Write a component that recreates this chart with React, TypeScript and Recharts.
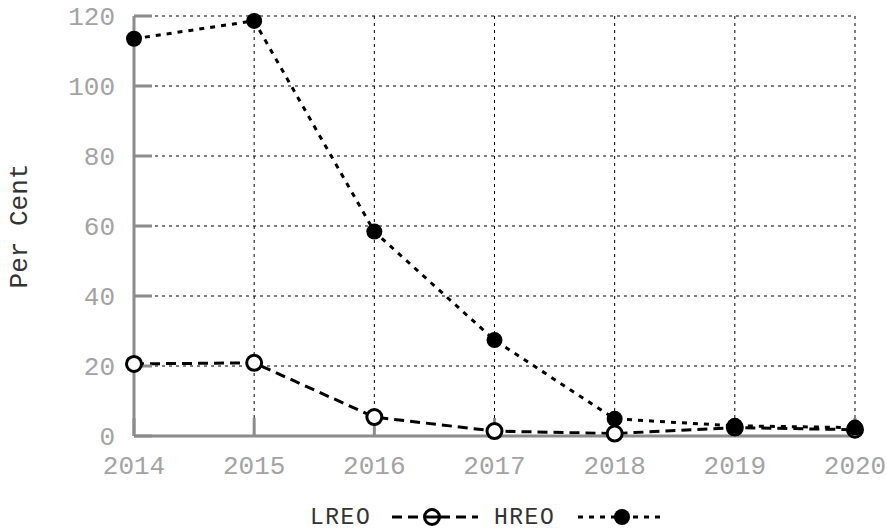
import React from 'react'
import { LineChart, Line, XAxis, YAxis, CartesianGrid } from 'recharts'

const years = ['2014', '2015', '2016', '2017', '2018', '2019', '2020']
const lreo = [20.6, 20.9, 5.4, 1.4, 0.7, 2.4, 1.8]
const hreo = [113.5, 118.6, 58.4, 27.4, 4.9, 2.9, 2.4]
const yTicks = [0, 20, 40, 60, 80, 100, 120]

const data = years.map((year, i) => ({ year, lreo: lreo[i], hreo: hreo[i] }))

const font = '"Liberation Mono", "Courier New", monospace'
const axisGray = '#8c8c8c'
const tickStyle = { fill: '#a3a3a3', fontFamily: font, fontSize: 26 }

// legend drawn below the chart, in its own svg
function Legend() {
  return (
    <svg width={887} height={26} style={{ position: 'absolute', left: 0, top: 503, overflow: 'visible' }}>
      <g fontFamily={font} fontSize={23} fill="#333" letterSpacing={1.5}>
        <text x={310} y={21}>LREO</text>
        <text x={494} y={21}>HREO</text>
      </g>
      <line x1={392} y1={14} x2={478} y2={14} stroke="#000" strokeWidth={3} strokeDasharray="10 6" />
      <circle cx={432} cy={14} r={7.5} fill="#fff" stroke="#000" strokeWidth={3} />
      <line x1={425} y1={14} x2={440} y2={14} stroke="#000" strokeWidth={3} />
      <line x1={578} y1={14} x2={666} y2={14} stroke="#000" strokeWidth={3} strokeDasharray="5 6" />
      <circle cx={622} cy={14} r={8} fill="#000" />
    </svg>
  )
}

export default function App() {
  return (
    <div style={{ position: 'absolute', left: 0, top: 0, width: 887, height: 530, background: '#fff' }}>
      <LineChart
        width={887}
        height={530}
        data={data}
        margin={{ top: 16, right: 32, left: 0, bottom: 50 }}
      >
        <CartesianGrid stroke="#000" strokeDasharray="3 4" strokeWidth={1} />
        <XAxis
          dataKey="year"
          stroke={axisGray}
          strokeWidth={3}
          tickSize={-18}
          tickMargin={38}
          height={44}
          tick={tickStyle}
          interval={0}
        />
        <YAxis
          domain={[0, 120]}
          ticks={yTicks}
          stroke={axisGray}
          strokeWidth={3}
          tickSize={-18}
          tickMargin={37}
          width={134}
          tick={tickStyle}
          label={{
            value: 'Per Cent',
            angle: -90,
            position: 'insideLeft',
            offset: 18,
            style: { fill: '#333', fontFamily: font, fontSize: 26, textAnchor: 'middle' }
          }}
        />
        <Line
          dataKey="lreo"
          stroke="#000"
          strokeWidth={3}
          strokeDasharray="10 6"
          dot={{ r: 7.5, fill: '#fff', stroke: '#000', strokeWidth: 3, strokeDasharray: '' }}
          isAnimationActive={false}
        />
        <Line
          dataKey="hreo"
          stroke="#000"
          strokeWidth={3}
          strokeDasharray="5 6"
          dot={{ r: 8, fill: '#000', stroke: 'none', strokeDasharray: '' }}
          isAnimationActive={false}
        />
      </LineChart>
      <Legend />
    </div>
  )
}
